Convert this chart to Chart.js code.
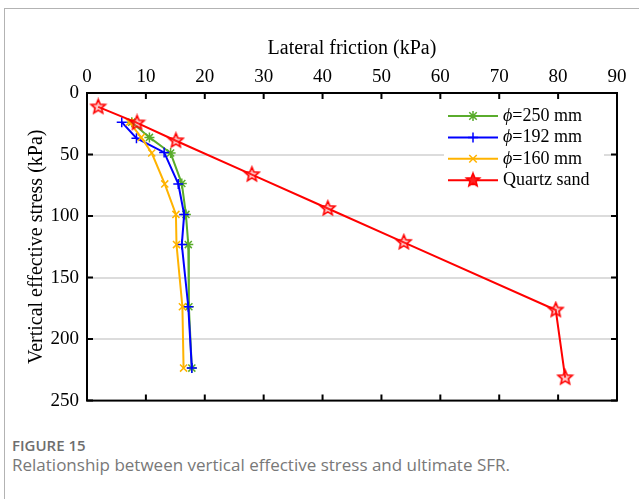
<!DOCTYPE html>
<html>
<head>
<meta charset="utf-8">
<script src="https://cdn.jsdelivr.net/npm/chart.js@4.4.1/dist/chart.umd.min.js"></script>
<style>
  html, body { margin: 0; padding: 0; background: #fff; }
  #wrap { position: relative; width: 639px; height: 499px; overflow: hidden; }
  #frame { position: absolute; left: 4px; top: 8px; width: 640px; height: 500px;
           border-left: 1px solid #b3b3b3; border-top: 1px solid #b3b3b3; }
  #cv { position: absolute; left: 0; top: 0; }
  .cap1 { position: absolute; left: 12px; top: 435px; font-family: "Open Sans", sans-serif;
          font-size: 15px; font-weight: 600; color: #6e6e6e; }
  .cap2 { position: absolute; left: 12px; top: 453px; font-family: "Open Sans", sans-serif;
          font-size: 17px; color: #787878; }
</style>
</head>
<body>
<div id="wrap">
  <div id="frame"></div>
  <canvas id="cv" width="639" height="420"></canvas>
  <div class="cap1">FIGURE 15</div>
  <div class="cap2">Relationship between vertical effective stress and ultimate SFR.</div>
</div>
<script>
// datos
const etiquetas = ['ϕ=250 mm', 'ϕ=192 mm', 'ϕ=160 mm', 'Quartz sand'];

const esfuerzo250 = [23.7, 36.1, 48.8, 73.6, 98.7, 123.2, 173.7, 223.6];
const friccion250 = [7.6, 10.6, 14.2, 16.1, 16.8, 17.2, 17.3, 17.8];

const esfuerzo192 = [23.7, 36.7, 48.3, 73.9, 98.7, 123.2, 173.7, 223.6];
const friccion192 = [5.9, 8.4, 13.1, 15.5, 16.5, 16.1, 17.2, 17.8];

const esfuerzo160 = [23.7, 36.1, 48.8, 73.9, 98.7, 123.2, 173.7, 223.6];
const friccion160 = [7.2, 9.2, 11.0, 13.2, 15.1, 15.2, 16.2, 16.4];

const esfuerzoArena = [11.3, 24.3, 38.8, 66.3, 93.9, 121.4, 176.4, 231.4];
const friccionArena = [1.9, 8.5, 15.1, 28.0, 40.9, 53.8, 79.6, 81.2];

const ticksX = [0, 10, 20, 30, 40, 50, 60, 70, 80, 90];
const ticksY = [0, 50, 100, 150, 200, 250];

function puntos(xs, ys) {
    return xs.map((v, i) => ({ x: v, y: ys[i] }));
}

// estrella de cinco puntas para la arena
function crearEstrella(r, relleno) {
    const c = document.createElement('canvas');
    const s = Math.ceil(r * 2 + 4);
    c.width = s; c.height = s;
    const g = c.getContext('2d');
    g.beginPath();
    for (let i = 0; i < 10; i++) {
        const rr = i % 2 === 0 ? r : r * 0.45;
        const a = -Math.PI / 2 + i * Math.PI / 5;
        const px = s / 2 + rr * Math.cos(a), py = s / 2 + rr * Math.sin(a);
        if (i === 0) g.moveTo(px, py); else g.lineTo(px, py);
    }
    g.closePath();
    g.fillStyle = relleno;
    g.fill();
    g.strokeStyle = '#ff0000';
    g.lineWidth = 1.6;
    g.stroke();
    return c;
}
const estrella = crearEstrella(7.5, 'rgba(255,90,90,0.35)');
const estrellaLeyenda = crearEstrella(7, '#ff2020');

const colores = ['#5aac2c', '#0000ff', '#ffb300', '#ff0000'];
const estilos = ['star', 'cross', 'crossRot', estrella];

const fuenteSerif = '"Liberation Serif", "Times New Roman", serif';

// marco, marcas hacia adentro y leyenda
const marcoPlugin = {
    id: 'marco',
    afterDraw(chart) {
        const ctx = chart.ctx;
        const a = chart.chartArea;
        const sx = chart.scales.x, sy = chart.scales.y;
        ctx.save();
        ctx.strokeStyle = '#000';
        ctx.lineWidth = 2;
        ctx.beginPath();
        ticksX.forEach(v => {
            const px = sx.getPixelForValue(v);
            ctx.moveTo(px, a.top); ctx.lineTo(px, a.top + 6);
            ctx.moveTo(px, a.bottom); ctx.lineTo(px, a.bottom - 6);
        });
        ticksY.forEach(v => {
            const py = sy.getPixelForValue(v);
            ctx.moveTo(a.left, py); ctx.lineTo(a.left + 6, py);
            ctx.moveTo(a.right, py); ctx.lineTo(a.right - 6, py);
        });
        ctx.stroke();
        ctx.strokeRect(a.left, a.top, a.right - a.left, a.bottom - a.top);

        // leyenda
        const lx = 448, ly = 116, paso = 21.4;
        ctx.fillStyle = '#fff';
        ctx.fillRect(lx - 4, ly - 11, 160, paso * 3 + 22);
        chart.data.datasets.forEach((ds, i) => {
            const y = ly + i * paso;
            ctx.strokeStyle = ds.borderColor;
            ctx.lineWidth = 2;
            ctx.beginPath();
            ctx.moveTo(lx, y); ctx.lineTo(lx + 50, y);
            ctx.stroke();
            dibujarMarca(ctx, i, lx + 25, y);
            ctx.fillStyle = '#000';
            ctx.textBaseline = 'middle';
            ctx.textAlign = 'left';
            let tx = lx + 55;
            let texto = ds.label;
            if (texto.startsWith('ϕ')) {
                ctx.font = 'italic 18px ' + fuenteSerif;
                ctx.fillText('ϕ', tx, y);
                tx += ctx.measureText('ϕ').width;
                texto = texto.slice(1);
            }
            ctx.font = '18px ' + fuenteSerif;
            ctx.fillText(texto, tx, y);
        });
        ctx.restore();
    }
};

function dibujarMarca(ctx, i, x, y) {
    const r = 5;
    ctx.save();
    ctx.strokeStyle = colores[i];
    ctx.lineWidth = 1.5;
    ctx.beginPath();
    if (i === 0 || i === 1) {
        ctx.moveTo(x - r, y); ctx.lineTo(x + r, y);
        ctx.moveTo(x, y - r); ctx.lineTo(x, y + r);
    }
    if (i === 0 || i === 2) {
        const d = r * 0.75;
        ctx.moveTo(x - d, y - d); ctx.lineTo(x + d, y + d);
        ctx.moveTo(x - d, y + d); ctx.lineTo(x + d, y - d);
    }
    ctx.stroke();
    if (i === 3) {
        ctx.drawImage(estrellaLeyenda, x - estrellaLeyenda.width / 2, y - estrellaLeyenda.height / 2);
    }
    ctx.restore();
}

const series = [
    puntos(friccion250, esfuerzo250),
    puntos(friccion192, esfuerzo192),
    puntos(friccion160, esfuerzo160),
    puntos(friccionArena, esfuerzoArena)
];

const datasets = series.map((d, i) => ({
    label: etiquetas[i],
    data: d,
    borderColor: colores[i],
    backgroundColor: colores[i],
    borderWidth: 2,
    pointStyle: estilos[i],
    pointRadius: i === 3 ? 7 : 5,
    pointBorderWidth: 1.5,
    pointBackgroundColor: 'transparent',
    pointBorderColor: colores[i],
    tension: 0,
    clip: false,
    order: 3 - i
}));

new Chart(document.getElementById('cv'), {
    type: 'line',
    data: { datasets },
    options: {
        responsive: false,
        animation: false,
        layout: { padding: { left: 0, top: 0, right: 22, bottom: 18 } },
        plugins: { legend: { display: false }, tooltip: { enabled: false } },
        scales: {
            x: {
                type: 'linear',
                position: 'top',
                min: 0, max: 90,
                afterBuildTicks(s) { s.ticks = ticksX.map(v => ({ value: v })); },
                afterFit(s) { s.height = 93; },
                grid: { display: false, drawTicks: false },
                border: { display: false },
                ticks: { color: '#000', padding: 5, font: { family: fuenteSerif, size: 19 } },
                title: {
                    display: true, text: 'Lateral friction (kPa)', color: '#000',
                    font: { family: fuenteSerif, size: 20 }, padding: { top: 37, bottom: 0 }
                }
            },
            y: {
                type: 'linear',
                reverse: true,
                min: 0, max: 250,
                afterBuildTicks(s) { s.ticks = ticksY.map(v => ({ value: v })); },
                afterFit(s) { s.width = 87; },
                grid: {
                    drawTicks: false, lineWidth: 2,
                    color: ctx => (ctx.tick && (ctx.tick.value === 0 || ctx.tick.value === 250)) ? 'rgba(0,0,0,0)' : '#dcdcdc'
                },
                border: { display: false },
                ticks: { color: '#000', padding: 8, font: { family: fuenteSerif, size: 19 } },
                title: {
                    display: true, text: 'Vertical effective stress (kPa)', color: '#000',
                    font: { family: fuenteSerif, size: 20 }, padding: { top: 25, bottom: 0 }
                }
            }
        }
    },
    plugins: [marcoPlugin]
});
</script>
</body>
</html>
